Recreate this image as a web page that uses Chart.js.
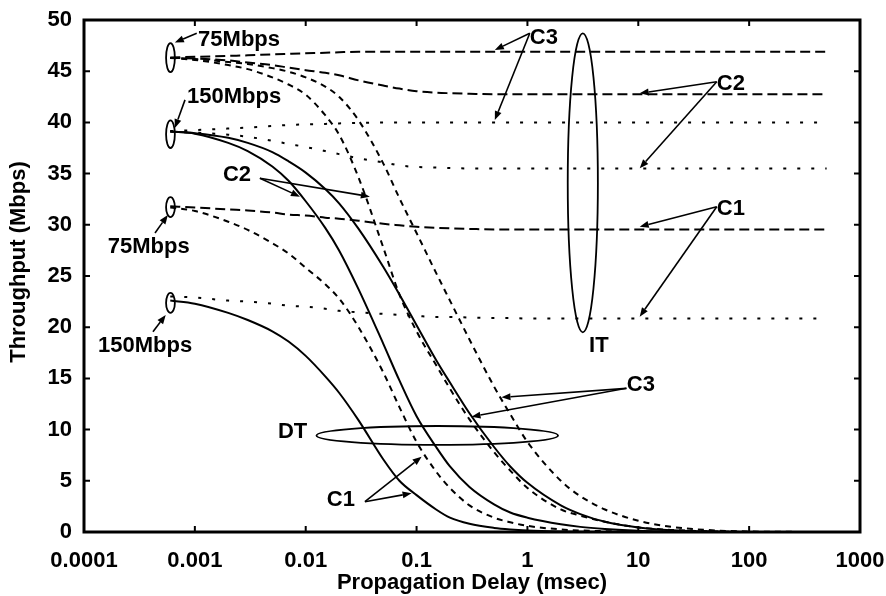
<!DOCTYPE html>
<html>
<head>
<meta charset="utf-8">
<script src="https://cdn.jsdelivr.net/npm/chart.js@4.4.0/dist/chart.umd.min.js"></script>
<style>
	html, body { margin: 0; padding: 0; background: #fff; }
	.grafik { width: 886px; height: 596px; }
</style>
</head>
<body>
<div class="grafik"><canvas id="throughputChart"></canvas></div>
<script>
// propagation delay samples (msec), shared by every curve
const delays = [0.0006, 0.001, 0.002, 0.003, 0.005, 0.007, 0.01, 0.015, 0.02, 0.03, 0.05, 0.07, 0.1, 0.15, 0.2, 0.3, 0.5, 0.7, 1, 2, 3, 5, 10, 20, 50, 100, 500]

// IT, 75Mbps (long dash)
const it75C3 = [46.35, 46.4, 46.5, 46.55, 46.65, 46.7, 46.75, 46.8, 46.85, 46.9, 46.9, 46.9, 46.9, 46.9, 46.9, 46.9, 46.9, 46.9, 46.9, 46.9, 46.9, 46.9, 46.9, 46.9, 46.9, 46.9, 46.9]
const it75C2 = [46.3, 46.25, 46.05, 45.85, 45.6, 45.35, 45.1, 44.85, 44.6, 44.1, 43.6, 43.3, 43.05, 42.9, 42.85, 42.8, 42.75, 42.75, 42.75, 42.75, 42.75, 42.75, 42.75, 42.75, 42.75, 42.75, 42.75]
const it75C1 = [31.8, 31.7, 31.5, 31.4, 31.2, 31.0, 30.9, 30.7, 30.6, 30.4, 30.1, 29.95, 29.8, 29.7, 29.65, 29.6, 29.55, 29.55, 29.55, 29.55, 29.55, 29.55, 29.55, 29.55, 29.55, 29.55, 29.55]
// IT, 150Mbps (dotted)
const it150C3 = [39.15, 39.25, 39.4, 39.5, 39.65, 39.75, 39.8, 39.85, 39.9, 39.95, 40, 40, 40, 40, 40, 40, 40, 40, 40, 40, 40, 40, 40, 40, 40, 40, 40]
const it150C2 = [39.1, 39.0, 38.8, 38.6, 38.2, 37.9, 37.6, 37.2, 36.9, 36.5, 36.1, 35.8, 35.65, 35.6, 35.55, 35.5, 35.5, 35.5, 35.5, 35.5, 35.5, 35.5, 35.5, 35.5, 35.5, 35.5, 35.5]
const it150C1 = [23.0, 22.9, 22.6, 22.5, 22.3, 22.1, 22.0, 21.8, 21.6, 21.45, 21.3, 21.2, 21.1, 21.0, 21.0, 20.95, 20.9, 20.9, 20.85, 20.85, 20.85, 20.85, 20.85, 20.85, 20.85, 20.85, 20.85]
// DT, 75Mbps (short dash)
const dt75C3 = [46.3, 46.2, 45.9, 45.7, 45.3, 44.95, 44.4, 43.5, 42.5, 40.2, 36.0, 32.6, 29.2, 25.3, 22.6, 18.8, 14.2, 11.5, 8.8, 5.0, 3.5, 2.2, 1.1, 0.5, 0.15, 0.05, 0]
const dt75C2 = [46.3, 46.1, 45.6, 45.2, 44.4, 43.7, 42.7, 40.7, 38.8, 34.6, 27.8, 23.2, 19.6, 16.3, 14.0, 11.0, 7.8, 6.0, 4.3, 2.2, 1.6, 1.0, 0.45, 0.2, 0.05, 0, 0]
const dt75C1 = [31.7, 31.35, 30.3, 29.5, 28.2, 27.2, 25.8, 24.2, 22.8, 20.0, 15.6, 12.2, 8.8, 5.9, 4.3, 2.6, 1.4, 0.95, 0.6, 0.25, 0.15, 0.08, 0.03, 0, 0, 0, 0]
// DT, 150Mbps (solid)
const dt150C3 = [39.1, 38.95, 38.5, 38.0, 37.1, 36.2, 35.1, 33.5, 32.1, 29.6, 25.9, 23.2, 20.2, 16.8, 14.6, 11.6, 8.3, 6.4, 4.8, 2.6, 1.75, 1.0, 0.45, 0.18, 0.05, 0.01, 0]
const dt150C2 = [39.1, 38.9, 38.0, 37.2, 35.7, 34.3, 32.3, 29.7, 27.5, 23.7, 18.4, 14.8, 11.3, 8.3, 6.4, 4.4, 2.7, 1.9, 1.4, 0.75, 0.5, 0.3, 0.12, 0.05, 0, 0, 0]
const dt150C1 = [22.6, 22.3, 21.4, 20.7, 19.6, 18.6, 17.2, 15.2, 13.6, 10.9, 7.1, 5.0, 3.6, 2.2, 1.4, 0.8, 0.4, 0.25, 0.15, 0.05, 0.02, 0, 0, 0, 0, 0, 0]

// axes
const xTickValues = [0.0001, 0.001, 0.01, 0.1, 1, 10, 100, 1000]
const xTickLabels = ['0.0001', '0.001', '0.01', '0.1', '1', '10', '100', '1000']
const yTickValues = [0, 5, 10, 15, 20, 25, 30, 35, 40, 45, 50]
const xTitle = 'Propagation Delay (msec)'
const yTitle = 'Throughput (Mbps)'

// line styles per group
const longDash = [10, 5]
const shortDash = [6, 5]
const dotted = [3, 11]

const seriesList = [
	{ label: 'IT 75Mbps C3', values: it75C3, dash: longDash },
	{ label: 'IT 75Mbps C2', values: it75C2, dash: longDash },
	{ label: 'IT 75Mbps C1', values: it75C1, dash: longDash },
	{ label: 'IT 150Mbps C3', values: it150C3, dash: dotted },
	{ label: 'IT 150Mbps C2', values: it150C2, dash: dotted },
	{ label: 'IT 150Mbps C1', values: it150C1, dash: dotted },
	{ label: 'DT 75Mbps C3', values: dt75C3, dash: shortDash },
	{ label: 'DT 75Mbps C2', values: dt75C2, dash: shortDash },
	{ label: 'DT 75Mbps C1', values: dt75C1, dash: shortDash },
	{ label: 'DT 150Mbps C3', values: dt150C3, dash: [] },
	{ label: 'DT 150Mbps C2', values: dt150C2, dash: [] },
	{ label: 'DT 150Mbps C1', values: dt150C1, dash: [] },
]

// annotations in data units: ellipses [x1, x2, y1, y2], arrows [fromX, fromY, toX, toY], texts
const ellipses = [
	[0.00055, 0.00066, 47.75, 44.9],
	[0.00055, 0.00066, 40.2, 37.5],
	[0.00055, 0.00066, 32.7, 30.75],
	[0.00055, 0.00066, 23.35, 21.4],
	[2.31, 4.32, 48.7, 19.5],
	[0.0125, 1.89, 10.35, 8.5],
]
const arrows = [
	[0.00104, 48.7, 0.00066, 47.8],
	[0.000815, 42.2, 0.00066, 39.45],
	[0.000437, 29.2, 0.00057, 30.95],
	[0.000419, 19.55, 0.000546, 21.2],
	[0.00386, 34.55, 0.00887, 32.75],
	[0.00386, 34.55, 0.0379, 32.75],
	[1.05, 48.7, 0.508, 47.07],
	[1.05, 48.7, 0.508, 40.23],
	[51, 43.97, 10.3, 42.84],
	[51, 43.97, 10.3, 35.52],
	[51, 31.77, 10.3, 29.81],
	[51, 31.77, 10.3, 21.03],
	[7.82, 14.03, 0.583, 13.15],
	[7.82, 14.03, 0.313, 11.26],
	[0.0342, 2.96, 0.0902, 3.78],
	[0.0342, 2.96, 0.111, 7.35],
]
const notes = [
	{ text: '75Mbps', x: 0.00107, y: 48.05, align: 'left' },
	{ text: '150Mbps', x: 0.00085, y: 42.5, align: 'left' },
	{ text: '75Mbps', x: 0.000164, y: 27.83, align: 'left' },
	{ text: '150Mbps', x: 0.000134, y: 18.16, align: 'left' },
	{ text: 'C2', x: 0.00179, y: 34.86, align: 'left' },
	{ text: 'C3', x: 1.05, y: 48.24, align: 'left' },
	{ text: 'C2', x: 51.1, y: 43.75, align: 'left' },
	{ text: 'C1', x: 51.1, y: 31.54, align: 'left' },
	{ text: 'IT', x: 4.41, y: 18.16, align: 'center' },
	{ text: 'C3', x: 7.87, y: 14.36, align: 'left' },
	{ text: 'DT', x: 0.00561, y: 9.77, align: 'left' },
	{ text: 'C1', x: 0.0155, y: 3.125, align: 'left' },
]

const fontFamily = '"Liberation Sans", Arial, Helvetica, sans-serif'
Chart.defaults.font.family = fontFamily
Chart.defaults.font.weight = 'bold'
Chart.defaults.color = '#000'

// white background, frame, inward ticks and the y title
const ramka = {
	id: 'ramka',
	beforeDraw(chart) {
		const ctx = chart.ctx
		ctx.save()
		ctx.fillStyle = '#fff'
		ctx.fillRect(0, 0, chart.width, chart.height)
		ctx.restore()
	},
	afterDraw(chart) {
		const { ctx, chartArea: a, scales } = chart
		ctx.save()
		ctx.strokeStyle = '#000'
		ctx.lineWidth = 2
		ctx.beginPath()
		xTickValues.forEach((v) => {
			const px = scales.x.getPixelForValue(v)
			ctx.moveTo(px, a.bottom)
			ctx.lineTo(px, a.bottom - 6)
			ctx.moveTo(px, a.top)
			ctx.lineTo(px, a.top + 6)
		})
		yTickValues.forEach((v) => {
			const py = scales.y.getPixelForValue(v)
			ctx.moveTo(a.left, py)
			ctx.lineTo(a.left + 6, py)
			ctx.moveTo(a.right, py)
			ctx.lineTo(a.right - 6, py)
		})
		ctx.stroke()
		ctx.lineWidth = 3
		ctx.strokeRect(a.left, a.top, a.right - a.left, a.bottom - a.top)

		// y title sits a little above the middle of the axis in the original
		ctx.translate(19, 262)
		ctx.rotate(-Math.PI / 2)
		ctx.fillStyle = '#000'
		ctx.font = 'bold 22px ' + fontFamily
		ctx.textAlign = 'center'
		ctx.textBaseline = 'middle'
		ctx.fillText(yTitle, 0, 0)
		ctx.restore()
	},
}

// ellipses, arrows and labels on top of the curves
const izohlar = {
	id: 'izohlar',
	afterDatasetsDraw(chart) {
		const { ctx, scales } = chart
		const X = (v) => scales.x.getPixelForValue(v)
		const Y = (v) => scales.y.getPixelForValue(v)
		ctx.save()
		ctx.strokeStyle = '#000'
		ctx.fillStyle = '#000'

		ctx.lineWidth = 1.8
		ellipses.forEach(([x1, x2, y1, y2]) => {
			const cx = (X(x1) + X(x2)) / 2
			const cy = (Y(y1) + Y(y2)) / 2
			const rx = Math.abs(X(x2) - X(x1)) / 2
			const ry = Math.abs(Y(y2) - Y(y1)) / 2
			ctx.beginPath()
			ctx.ellipse(cx, cy, rx, ry, 0, 0, Math.PI * 2)
			ctx.stroke()
		})

		ctx.lineWidth = 1.6
		arrows.forEach(([fx, fy, tx, ty]) => {
			const x1 = X(fx), y1 = Y(fy), x2 = X(tx), y2 = Y(ty)
			const ang = Math.atan2(y2 - y1, x2 - x1)
			const len = 9, half = 3.5
			const bx = x2 - len * Math.cos(ang)
			const by = y2 - len * Math.sin(ang)
			ctx.beginPath()
			ctx.moveTo(x1, y1)
			ctx.lineTo(bx, by)
			ctx.stroke()
			ctx.beginPath()
			ctx.moveTo(x2, y2)
			ctx.lineTo(bx - half * Math.sin(ang), by + half * Math.cos(ang))
			ctx.lineTo(bx + half * Math.sin(ang), by - half * Math.cos(ang))
			ctx.closePath()
			ctx.fill()
		})

		ctx.font = 'bold 22px ' + fontFamily
		ctx.textBaseline = 'middle'
		notes.forEach((n) => {
			ctx.textAlign = n.align
			ctx.fillText(n.text, X(n.x), Y(n.y))
		})
		ctx.restore()
	},
}

const ctx = document.getElementById('throughputChart').getContext('2d')
const throughputChart = new Chart(ctx, {
	type: 'line',
	data: {
		datasets: seriesList.map((s) => ({
			label: s.label,
			data: delays.map((d, i) => ({ x: d, y: s.values[i] })),
			borderColor: '#000',
			borderWidth: 2,
			borderDash: s.dash,
			pointRadius: 0,
			fill: false,
			cubicInterpolationMode: 'monotone',
		})),
	},
	options: {
		responsive: true,
		maintainAspectRatio: false,
		animation: false,
		devicePixelRatio: 1,
		layout: { padding: { top: 20, right: 26, left: 0, bottom: 0 } },
		plugins: {
			legend: { display: false },
			tooltip: { enabled: false },
		},
		scales: {
			x: {
				type: 'logarithmic',
				min: 0.0001,
				max: 1000,
				grid: { display: false, drawTicks: false },
				border: { display: false },
				afterBuildTicks: (scale) => {
					scale.ticks = xTickValues.map((v) => ({ value: v }))
				},
				afterFit: (scale) => {
					scale.height = 64
					scale.paddingLeft = 0
					scale.paddingRight = 0
				},
				ticks: {
					autoSkip: false,
					maxRotation: 0,
					padding: 16,
					font: { size: 22 },
					callback: (value, index) => xTickLabels[index],
				},
				title: {
					display: true,
					text: xTitle,
					font: { size: 22 },
					padding: { top: 0, bottom: 0 },
				},
			},
			y: {
				min: 0,
				max: 50,
				grid: { display: false, drawTicks: false },
				border: { display: false },
				afterBuildTicks: (scale) => {
					scale.ticks = yTickValues.map((v) => ({ value: v }))
				},
				afterFit: (scale) => {
					scale.width = 84
					scale.paddingTop = 0
					scale.paddingBottom = 0
				},
				ticks: {
					padding: 12,
					font: { size: 22 },
				},
				title: { display: false },
			},
		},
	},
	plugins: [ramka, izohlar],
})
</script>
</body>
</html>
